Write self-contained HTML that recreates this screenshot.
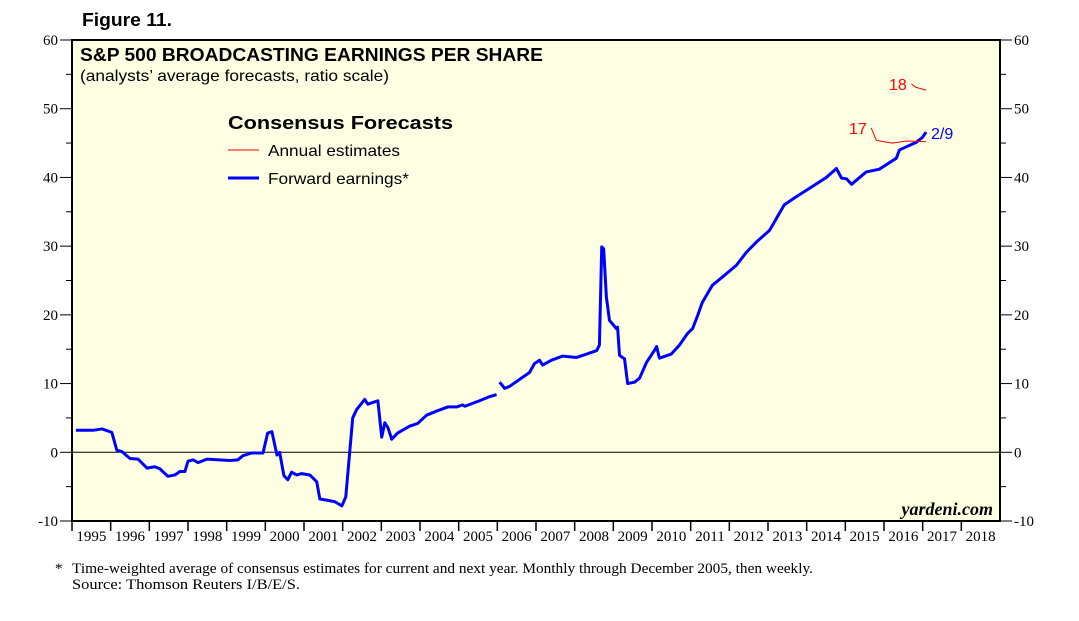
<!DOCTYPE html>
<html><head><meta charset="utf-8"><style>
body{margin:0;background:#fff;}
svg{display:block;}
text{font-family:"Liberation Sans",sans-serif;}
.serif{font-family:"Liberation Serif",serif;}
</style></head><body>
<svg width="1079" height="621">
<text x="82" y="26" font-size="18" font-weight="bold" textLength="90" lengthAdjust="spacingAndGlyphs">Figure 11.</text>
<rect x="72" y="40" width="928" height="481" fill="#fefee3" stroke="#000" stroke-width="2"/>
<g id="axes"></g>
<line x1="72" x2="1000" id="zero" stroke="#000" stroke-width="1"/>
<text x="80" y="61" font-size="18" font-weight="bold" textLength="463" lengthAdjust="spacingAndGlyphs">S&amp;P 500 BROADCASTING EARNINGS PER SHARE</text>
<text x="80" y="81" font-size="16" textLength="309" lengthAdjust="spacingAndGlyphs">(analysts’ average forecasts, ratio scale)</text>
<g>
<text x="228" y="129" font-size="18" font-weight="bold" textLength="225" lengthAdjust="spacingAndGlyphs">Consensus Forecasts</text>
<line x1="228" x2="259" y1="150" y2="150" stroke="#f00" stroke-width="1"/>
<text x="268" y="156" font-size="16" textLength="132" lengthAdjust="spacingAndGlyphs">Annual estimates</text>
<line x1="228" x2="259" y1="178" y2="178" stroke="#00f" stroke-width="3"/>
<text x="268" y="184" font-size="16" textLength="141" lengthAdjust="spacingAndGlyphs">Forward earnings*</text>
</g>
<g id="series"></g>
<text x="849" y="134" font-size="16" fill="#f00">17</text>
<text x="889" y="90" font-size="16" fill="#f00">18</text>
<text x="931" y="139" font-size="16" fill="#00f">2/9</text>
<text x="993" y="515" font-size="18" font-style="italic" font-weight="bold" text-anchor="end" class="serif">yardeni.com</text>
<text x="55" y="573" font-size="15" class="serif">*</text>
<text x="72" y="573" font-size="15" class="serif" textLength="741" lengthAdjust="spacingAndGlyphs">Time-weighted average of consensus estimates for current and next year. Monthly through December 2005, then weekly.</text>
<text x="72" y="589" font-size="15" class="serif" textLength="228" lengthAdjust="spacingAndGlyphs">Source: Thomson Reuters I/B/E/S.</text>
</svg>
<script>
const yTicks=[-10,0,10,20,30,40,50,60];
const years=[1995,1996,1997,1998,1999,2000,2001,2002,2003,2004,2005,2006,2007,2008,2009,2010,2011,2012,2013,2014,2015,2016,2017,2018];
const monthlyDates=[1995.10,1995.54,1995.78,1996.03,1996.16,1996.29,1996.50,1996.71,1996.94,1997.14,1997.27,1997.48,1997.66,1997.79,1997.92,1998.00,1998.13,1998.26,1998.49,1999.08,1999.29,1999.42,1999.65,1999.94,2000.06,2000.17,2000.30,2000.37,2000.48,2000.58,2000.68,2000.81,2000.94,2001.15,2001.33,2001.41,2001.62,2001.80,2001.98,2002.08,2002.26,2002.36,2002.57,2002.65,2002.91,2003.01,2003.09,2003.17,2003.27,2003.42,2003.73,2003.94,2004.17,2004.43,2004.72,2004.95,2005.10,2005.16,2005.54,2005.80,2005.98];
const monthlyValues=[3.2,3.2,3.4,2.9,0.3,0.1,-0.9,-1.0,-2.3,-2.1,-2.4,-3.5,-3.3,-2.8,-2.8,-1.3,-1.1,-1.5,-1.0,-1.2,-1.1,-0.5,-0.1,-0.1,2.8,3.0,-0.4,0,-3.4,-4.0,-2.9,-3.3,-3.1,-3.3,-4.3,-6.8,-7.0,-7.2,-7.8,-6.5,5.0,6.2,7.7,7.0,7.5,2.2,4.3,3.6,1.9,2.8,3.8,4.2,5.4,6.0,6.6,6.6,6.9,6.7,7.5,8.1,8.4];
const weeklyDates=[2006.06,2006.19,2006.32,2006.65,2006.83,2006.96,2007.09,2007.17,2007.40,2007.69,2008.05,2008.31,2008.57,2008.64,2008.70,2008.75,2008.82,2008.90,2009.08,2009.11,2009.16,2009.29,2009.37,2009.55,2009.68,2009.86,2010.06,2010.12,2010.19,2010.50,2010.71,2010.92,2011.05,2011.18,2011.30,2011.56,2011.82,2012.18,2012.44,2012.70,2013.04,2013.42,2013.68,2014.07,2014.51,2014.77,2014.90,2015.03,2015.16,2015.54,2015.88,2016.32,2016.40,2016.83,2016.99,2017.09];
const weeklyValues=[10.2,9.3,9.6,10.9,11.6,12.9,13.4,12.7,13.4,14.0,13.8,14.3,14.8,15.6,29.9,29.6,22.6,19.2,18.0,18.2,14.1,13.6,10.0,10.2,10.8,13.1,14.8,15.4,13.7,14.3,15.6,17.3,18.0,19.9,21.8,24.3,25.5,27.2,29.1,30.6,32.3,36.0,37.0,38.4,40.0,41.3,39.9,39.8,39.0,40.8,41.2,42.8,44.0,45.1,45.8,46.6];
const est17Dates=[2015.67,2015.80,2016.21,2016.58,2017.09];
const est17Values=[47.2,45.4,45.0,45.3,45.2];
const est18Dates=[2016.71,2016.83,2017.09];
const est18Values=[53.6,53.1,52.7];

const X0=72,X1=1000,Y0=521,Y1=40;
const sx=t=>X0+(t-1995)*(X1-X0)/24;
const sy=v=>Y0-(v+10)*(Y0-Y1)/70;
const NS="http://www.w3.org/2000/svg";
const axes=document.getElementById('axes'), ser=document.getElementById('series');
function mk(tag,attrs,parent){const e=document.createElementNS(NS,tag);for(const k in attrs)e.setAttribute(k,attrs[k]);parent.appendChild(e);return e;}
const z=document.getElementById('zero');z.setAttribute('y1',sy(0));z.setAttribute('y2',sy(0));
yTicks.forEach(v=>{
  const y=sy(v);
  let t=mk('text',{x:58,y:y+5,'font-size':15,'text-anchor':'end',class:'serif'},axes);t.textContent=v;
  
  
  t=mk('text',{x:1014,y:y+5,'font-size':15,class:'serif'},axes);t.textContent=v;
  
  
  mk('line',{x1:60,x2:X0,y1:y,y2:y,stroke:'#000'},axes);
  mk('line',{x1:X1,x2:1012,y1:y,y2:y,stroke:'#000'},axes);
  if(v<60){const m=sy(v+5);
    mk('line',{x1:66,x2:X0,y1:m,y2:m,stroke:'#000'},axes);
    mk('line',{x1:X1,x2:1006,y1:m,y2:m,stroke:'#000'},axes);}
});
years.forEach(yr=>{
  const x=sx(yr);
  mk('line',{x1:x,x2:x,y1:Y0,y2:Y0+10,stroke:'#000','stroke-width':1.5},axes);
  const t=mk('text',{x:sx(yr+0.5),y:Y0+20,'font-size':15,'text-anchor':'middle',class:'serif'},axes);
  t.textContent=yr;
  
  
});
function line(ds,vs,color,w,name){
  const p=mk('polyline',{points:ds.map((d,i)=>sx(d)+','+sy(vs[i])).join(' '),fill:'none',stroke:color,'stroke-width':w,'stroke-linejoin':'round'},ser);
  
  
}
line(monthlyDates,monthlyValues,'#00f',3,'forward-earnings-monthly');
line(weeklyDates,weeklyValues,'#00f',3,'forward-earnings-weekly');
line(est17Dates,est17Values,'#f00',1,'annual-estimate-2017');
line(est18Dates,est18Values,'#f00',1,'annual-estimate-2018');
</script>
</body></html>
